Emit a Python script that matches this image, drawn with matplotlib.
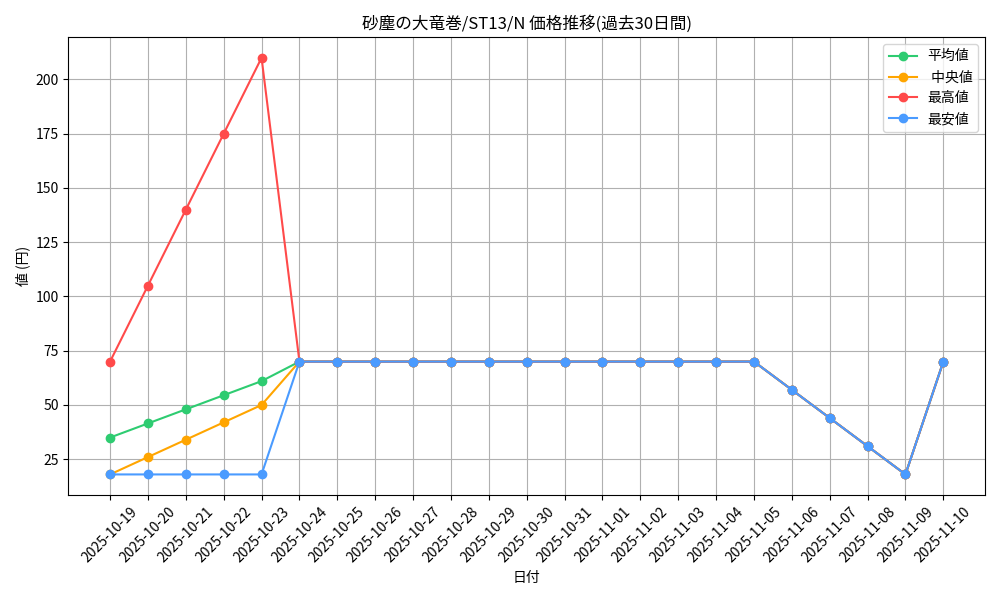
import matplotlib
matplotlib.use("Agg")
import matplotlib.pyplot as plt

plt.rcParams['font.family'] = ['Noto Sans CJK JP', 'DejaVu Sans']

dates = ["2025-10-19", "2025-10-20", "2025-10-21", "2025-10-22", "2025-10-23",
         "2025-10-24", "2025-10-25", "2025-10-26", "2025-10-27", "2025-10-28",
         "2025-10-29", "2025-10-30", "2025-10-31", "2025-11-01", "2025-11-02",
         "2025-11-03", "2025-11-04", "2025-11-05", "2025-11-06", "2025-11-07",
         "2025-11-08", "2025-11-09", "2025-11-10"]

avg_vals = [35, 41.5, 48, 54.5, 61, 70, 70, 70, 70, 70, 70, 70, 70, 70, 70, 70, 70, 70, 57, 44, 31, 18, 70]
med_vals = [18, 26, 34, 42, 50, 70, 70, 70, 70, 70, 70, 70, 70, 70, 70, 70, 70, 70, 57, 44, 31, 18, 70]
max_vals = [70, 105, 140, 175, 210, 70, 70, 70, 70, 70, 70, 70, 70, 70, 70, 70, 70, 70, 57, 44, 31, 18, 70]
min_vals = [18, 18, 18, 18, 18, 70, 70, 70, 70, 70, 70, 70, 70, 70, 70, 70, 70, 70, 57, 44, 31, 18, 70]

fig, ax = plt.subplots(figsize=(10, 6), dpi=100)
ax.plot(dates, avg_vals, marker='o', color='#2ecc71', label='平均値')
ax.plot(dates, med_vals, marker='o', color='#ffa500', label=' 中央値')
ax.plot(dates, max_vals, marker='o', color='#ff4a4a', label='最高値')
ax.plot(dates, min_vals, marker='o', color='#4a9bff', label='最安値')

ax.set_title('砂塵の大竜巻/ST13/N 価格推移(過去30日間)')
ax.set_xlabel('日付')
ax.set_ylabel('値 (円)')
ax.grid(True)
ax.legend(loc='upper right')
plt.setp(ax.get_xticklabels(), rotation=45, ha='center')
fig.tight_layout()
fig.savefig('out.png')
